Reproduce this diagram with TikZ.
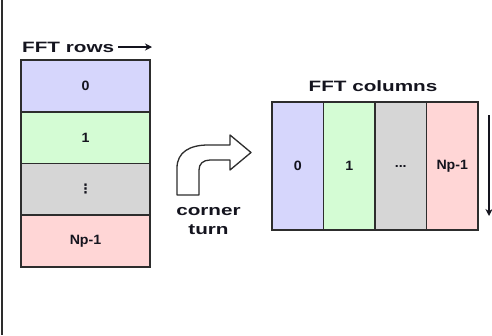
\documentclass[tikz,border=0pt]{standalone}
\usepackage{fontspec}
\setmainfont{Liberation Sans}
\newfontfamily\dejavufont{DejaVu Sans}
\usetikzlibrary{arrows.meta}
\definecolor{cblue}{RGB}{214,214,252}
\definecolor{cgreen}{RGB}{212,252,212}
\definecolor{cgray}{RGB}{214,214,214}
\definecolor{cpink}{RGB}{255,214,214}
\definecolor{edge}{RGB}{45,45,45}
\definecolor{ink}{RGB}{20,20,30}
\newcommand{\celltxt}[1]{\scalebox{1.05}[1]{\fontsize{13.5}{15}\selectfont\bfseries #1}}
\newcommand{\hdrtxt}[1]{\scalebox{1.38}[1]{\fontsize{15}{19}\selectfont\bfseries #1}}
\tikzset{
  rowcell/.style={draw=edge, line width=1.6pt, minimum width=129pt, minimum height=51.75pt, inner sep=0pt, text=ink},
  colcell/.style={draw=edge, line width=1.6pt, minimum width=51.5pt, minimum height=128pt, inner sep=0pt, text=ink},
  hdr/.style={inner sep=0pt, text=ink},
  arr/.style={draw=ink, line width=1.2pt, -{Stealth[length=7pt,width=7pt]}}
}
\begin{document}
\begin{tikzpicture}[x=1pt,y=-1pt]
\useasboundingbox (0,0) rectangle (492,335);
% left rule
\coordinate (lt) at (2,0);
\coordinate (lb) at (2,335);
\draw[edge, line width=1.5pt] (lt) -- (lb);
% rows stack
\node[hdr, anchor=base west] (hrows) at (22,52) {\hdrtxt{FFT rows}};
\coordinate (ra1) at (118,47);
\coordinate (ra2) at (152,47);
\draw[arr] (ra1) -- (ra2);
\node[rowcell, fill=cblue]  (r0) at (85.5,85.9)  {\celltxt{0}};
\node[rowcell, fill=cgreen] (r1) at (85.5,137.6) {\celltxt{1}};
\node[rowcell, fill=cgray]  (r2) at (85.5,189.4) {{\dejavufont\fontsize{13}{15}\selectfont\bfseries ⋮}};
\node[rowcell, fill=cpink]  (r3) at (85.5,241.1) {\celltxt{Np-1}};
% corner turn arrow
\draw[edge, line width=1.3pt, fill=white, line join=round]
  (177,195) -- (177,168) .. controls (177,152) and (190,145) .. (208,145)
  -- (230,145) -- (230,135) -- (251,152.5) -- (230,170) -- (230,160)
  -- (210,160) .. controls (203,160) and (199,164) .. (199,170) -- (199,195) -- cycle;
\node[hdr, align=center, font=\fontsize{15}{19}\selectfont] (ct) at (208.5,221) {\hdrtxt{corner}\\\hdrtxt{turn}};
% columns
\node[hdr, anchor=base] (hcols) at (373,91) {\hdrtxt{FFT columns}};
\node[colcell, fill=cblue]  (c0) at (297.75,166) {\celltxt{0}};
\node[colcell, fill=cgreen] (c1) at (349.25,166) {\celltxt{1}};
\node[colcell, fill=cgray]  (c2) at (400.75,166) {\celltxt{...}};
\node[colcell, fill=cpink]  (c3) at (452.25,166) {\celltxt{Np-1}};
\coordinate (da1) at (489,115);
\coordinate (da2) at (489,216);
\draw[arr] (da1) -- (da2);
\end{tikzpicture}
\end{document}
